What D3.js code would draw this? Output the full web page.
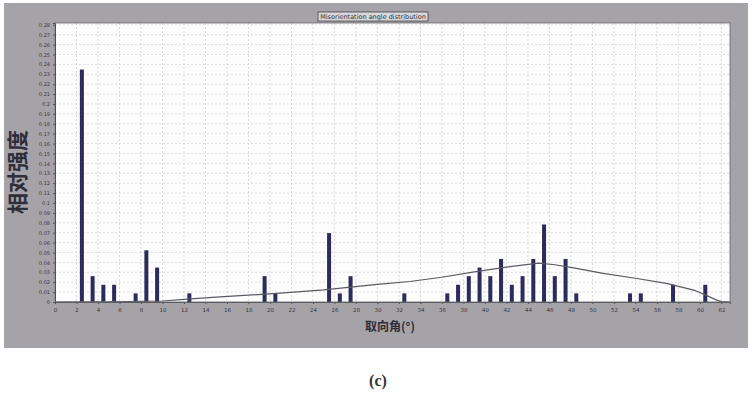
<!DOCTYPE html>
<html><head><meta charset="utf-8">
<script src="https://cdn.jsdelivr.net/npm/d3@7"></script>
<style>html,body{margin:0;padding:0;background:#fff;}svg{display:block;}</style>
</head><body>
<script>
// Misorientation angle bins (deg, bin centres) and relative frequencies
const angles = [2.5,3.5,4.5,5.5,7.5,8.5,9.5,12.5,19.5,20.5,25.5,26.5,27.5,32.5,36.5,37.5,38.5,39.5,40.5,41.5,42.5,43.5,44.5,45.5,46.5,47.5,48.5,53.5,54.5,57.5,60.5];
const freqs  = [0.2348,0.0261,0.0174,0.0174,0.0087,0.0522,0.0348,0.0087,0.0261,0.0087,0.0696,0.0087,0.0261,0.0087,0.0087,0.0174,0.0261,0.0348,0.0261,0.0435,0.0174,0.0261,0.0435,0.0783,0.0261,0.0435,0.0087,0.0087,0.0087,0.0174,0.0174];
// Random (Mackenzie) reference curve
const curveAngles = [0,5,10,12,15,20,25,30,33,36,39,42,45,46.5,48,51,54,57,59.5,60.5,61.5,62,62.8];
const curveFreqs  = [0,0.0002,0.001,0.0027,0.005,0.0082,0.0122,0.0178,0.0207,0.025,0.0305,0.0352,0.0392,0.0376,0.035,0.029,0.024,0.0185,0.0118,0.0072,0.0022,0.0004,0];
const xTicks = [0,2,4,6,8,10,12,14,16,18,20,22,24,26,28,30,32,34,36,38,40,42,44,46,48,50,52,54,56,58,60,62];
const yTicks = [0,0.01,0.02,0.03,0.04,0.05,0.06,0.07,0.08,0.09,0.1,0.11,0.12,0.13,0.14,0.15,0.16,0.17,0.18,0.19,0.2,0.21,0.22,0.23,0.24,0.25,0.26,0.27,0.28];
const chartTitle = "Misorientation angle distribution";
const yTitle = "相对强度";
const xTitle = "取向角(°)";
const caption = "(c)";

const W = 754, H = 405;
const plot = {left:55, right:730, top:23, bottom:302};
const svg = d3.select("body").append("svg").attr("width", W).attr("height", H);

// outer grey panel
svg.append("rect").attr("x",4).attr("y",3).attr("width",744).attr("height",345).attr("fill","#a5a2a8");

const x = d3.scaleLinear().domain([0,62.8]).range([plot.left, plot.right]);
const y = d3.scaleLinear().domain([0,0.2818]).range([plot.bottom, plot.top]);

// plot background
svg.append("rect").attr("x",plot.left).attr("y",plot.top)
  .attr("width",plot.right-plot.left).attr("height",plot.bottom-plot.top).attr("fill","#fdfdfd");

// grid
const g = svg.append("g");
g.selectAll(".vg").data(xTicks).join("line")
  .attr("x1",d=>x(d)).attr("x2",d=>x(d)).attr("y1",plot.top).attr("y2",plot.bottom)
  .attr("stroke","#cfcfcf").attr("stroke-width",0.8).attr("stroke-dasharray","2,2");
g.selectAll(".hg").data(yTicks).join("line")
  .attr("x1",plot.left).attr("x2",plot.right).attr("y1",d=>y(d)).attr("y2",d=>y(d))
  .attr("stroke","#d6d6d6").attr("stroke-width",0.8).attr("stroke-dasharray","2,2");

// bars
const bw = 4;
svg.append("g").selectAll("rect").data(angles).join("rect")
  .attr("x",(d)=>x(d)-bw/2).attr("width",bw)
  .attr("y",(d,i)=>y(freqs[i])).attr("height",(d,i)=>y(0)-y(freqs[i]))
  .attr("fill","#2b2b5c");

// reference curve
const line = d3.line().x((d,i)=>x(curveAngles[i])).y(d=>y(d)).curve(d3.curveLinear);
svg.append("path").datum(curveFreqs).attr("d",line)
  .attr("fill","none").attr("stroke","#5a5a62").attr("stroke-width",1.2);

// axes
const xAxis = d3.axisBottom(x).tickValues(xTicks).tickSize(2).tickFormat(d3.format("d"));
const gx = svg.append("g").attr("transform",`translate(0,${plot.bottom})`).call(xAxis);
gx.select(".domain").attr("stroke","#555");
gx.selectAll(".tick line").attr("stroke","#555");
gx.selectAll("text").attr("font-size",5.5).attr("fill","#3a3a44").attr("font-family","DejaVu Sans").attr("dy","0.9em");

const yAxis = d3.axisLeft(y).tickValues(yTicks).tickSize(2).tickFormat(d=>String(+d.toFixed(2)));
const gy = svg.append("g").attr("transform",`translate(${plot.left},0)`).call(yAxis);
gy.select(".domain").attr("stroke","#444");
gy.selectAll(".tick line").attr("stroke","#555");
gy.selectAll("text").attr("font-size",5).attr("fill","#3a3a44").attr("font-family","DejaVu Sans");

// plot border
svg.append("rect").attr("x",plot.left).attr("y",plot.top)
  .attr("width",plot.right-plot.left).attr("height",plot.bottom-plot.top)
  .attr("fill","none").attr("stroke","#6a6a70").attr("stroke-width",0.8);

// chart title box
svg.append("rect").attr("x",318).attr("y",12).attr("width",110).attr("height",9)
  .attr("fill","#d8d8dc").attr("stroke","#444").attr("stroke-width",0.8);
svg.append("text").attr("x",373).attr("y",19).attr("text-anchor","middle")
  .attr("font-size",6.5).attr("font-family","DejaVu Sans").attr("fill","#333").text(chartTitle);

// y title
svg.append("text").attr("transform","translate(25,172) rotate(-90)").attr("text-anchor","middle")
  .attr("font-size",21).attr("font-weight","bold").attr("font-family","Noto Sans CJK SC")
  .attr("fill","#2e2e3a").text(yTitle);

// x title
svg.append("text").attr("x",390).attr("y",331).attr("text-anchor","middle")
  .attr("font-size",12).attr("font-weight","bold").attr("font-family","Noto Sans CJK SC")
  .attr("fill","#2e2e3a").text(xTitle);

// caption
svg.append("text").attr("x",378).attr("y",386).attr("text-anchor","middle")
  .attr("font-size",16).attr("font-weight","bold").attr("font-family","Liberation Serif")
  .attr("fill","#333").text(caption);
</script>
</body></html>
